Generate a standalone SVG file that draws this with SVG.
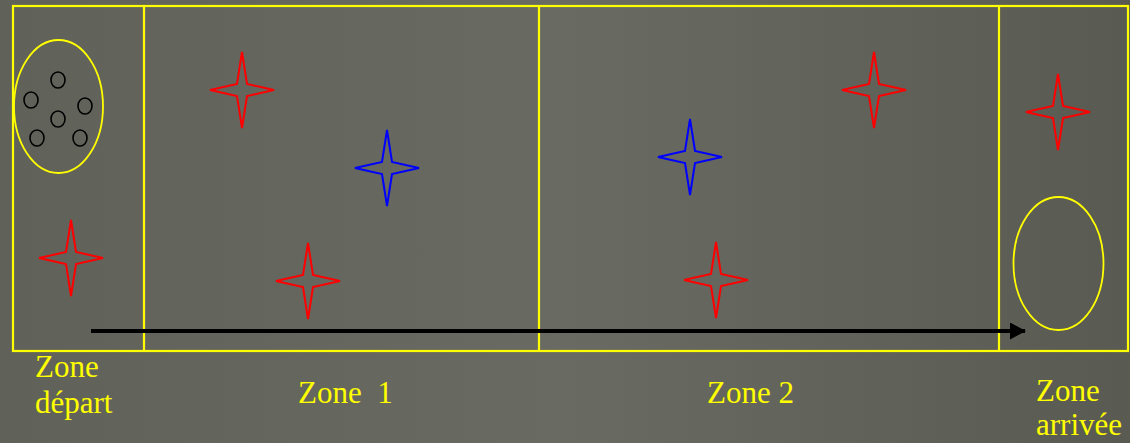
<svg xmlns="http://www.w3.org/2000/svg" width="1130" height="443" viewBox="0 0 1130 443">
<defs>
<linearGradient id="bg" x1="0" y1="0" x2="1" y2="0">
<stop offset="0" stop-color="#606159"/>
<stop offset="0.5" stop-color="#696a61"/>
<stop offset="1" stop-color="#595a51"/>
</linearGradient>
<path id="star" d="M0,-38 L5,-6 L32,0 L5,6 L0,38 L-5,6 L-32,0 L-5,-6 Z"/>
<marker id="ah" markerWidth="16" markerHeight="17" refX="15" refY="8.5" orient="auto" markerUnits="userSpaceOnUse">
<path d="M0,0 L16,8.5 L0,17 Z" fill="#000"/>
</marker>
</defs>
<style>
.zone{fill:none;stroke:#ffff00;stroke-width:2.2}
.ell{fill:none;stroke:#ffff00;stroke-width:1.8}
.dot{fill:none;stroke:#000;stroke-width:1.6}
.red{fill:none;stroke:#ff0000;stroke-width:2}
.blue{fill:none;stroke:#0000ff;stroke-width:2}
</style>
<rect x="0" y="0" width="1130" height="443" fill="url(#bg)"/>
<g id="field">
<rect class="zone" x="13" y="6" width="1115" height="345"/>
<line class="zone" x1="144" y1="6" x2="144" y2="351"/>
<line class="zone" x1="539" y1="6" x2="539" y2="351"/>
<line class="zone" x1="999" y1="6" x2="999" y2="351"/>
</g>
<g id="start-area">
<ellipse class="ell" cx="58.5" cy="106.5" rx="44.5" ry="66.5"/>
<ellipse class="dot" cx="58" cy="80" rx="7" ry="8"/>
<ellipse class="dot" cx="31" cy="100" rx="7" ry="8"/>
<ellipse class="dot" cx="85" cy="106" rx="7" ry="8"/>
<ellipse class="dot" cx="58" cy="119" rx="7" ry="8"/>
<ellipse class="dot" cx="37" cy="138" rx="7" ry="8"/>
<ellipse class="dot" cx="80" cy="138" rx="7" ry="8"/>
</g>
<g id="finish-area">
<ellipse class="ell" cx="1058.5" cy="263.5" rx="45" ry="66.5"/>
</g>
<g id="stars">
<use href="#star" class="red" x="71" y="258"/>
<use href="#star" class="red" x="242" y="90"/>
<use href="#star" class="blue" x="387" y="168"/>
<use href="#star" class="red" x="308" y="281"/>
<use href="#star" class="blue" x="690" y="157"/>
<use href="#star" class="red" x="716" y="280"/>
<use href="#star" class="red" x="874" y="90"/>
<use href="#star" class="red" x="1058" y="112"/>
</g>
<g id="connectors">
<line x1="91" y1="331" x2="1025" y2="331" stroke="#000" stroke-width="4" marker-end="url(#ah)"/>
</g>
<g id="labels" font-family="Liberation Serif, Times New Roman, serif" font-size="31" fill="#ffff00">
<text x="35" y="377">Zone</text>
<text x="35" y="413">départ</text>
<text x="298" y="403" xml:space="preserve">Zone  1</text>
<text x="707" y="403">Zone 2</text>
<text x="1036" y="401">Zone</text>
<text x="1036" y="435">arrivée</text>
</g>
</svg>
